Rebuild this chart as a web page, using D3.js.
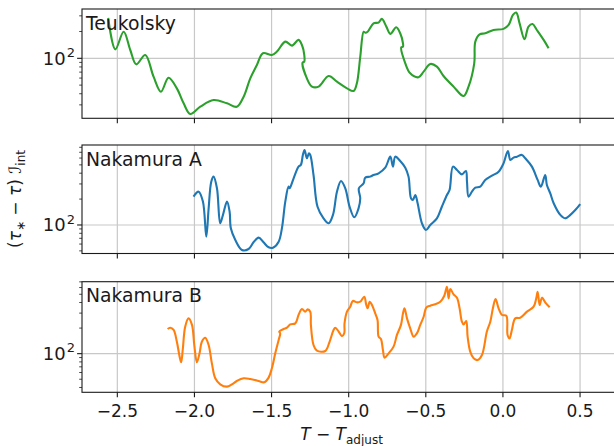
<!DOCTYPE html>
<html><head><meta charset="utf-8">
<script src="https://cdn.jsdelivr.net/npm/d3@7"></script>
<style>body{margin:0;background:#fff} svg{display:block} text{font-family:"DejaVu Sans",sans-serif;fill:#1a1a1a}</style>
</head><body><svg id="c" width="614" height="446"></svg>
<script>
const xTicks = [-2.5,-2.0,-1.5,-1.0,-0.5,0.0,0.5];
const xTickLabels = ["−2.5","−2.0","−1.5","−1.0","−0.5","0.0","0.5"];
const panelNames = ["Teukolsky","Nakamura A","Nakamura B"];
const seriesColors = ["#2ca02c","#1f77b4","#ff7f0e"];

const teukT = [-2.559,-2.513,-2.459,-2.416,-2.377,-2.319,-2.265,-2.217,-2.168,-2.114,-2.070,-2.027,-1.962,-1.876,-1.789,-1.725,-1.681,-1.638,-1.595,-1.556,-1.498,-1.465,-1.411,-1.368,-1.325,-1.303,-1.288,-1.288,-1.299,-1.271,-1.238,-1.195,-1.130,-1.076,-1.011,-0.968,-0.947,-0.925,-0.903,-0.893,-0.877,-0.839,-0.806,-0.785,-0.756,-0.730,-0.692,-0.666,-0.648,-0.648,-0.659,-0.633,-0.601,-0.547,-0.514,-0.471,-0.428,-0.385,-0.320,-0.255,-0.223,-0.186,-0.179,-0.151,-0.115,-0.061,0.004,0.037,0.065,0.086,0.108,0.140,0.166,0.192,0.220,0.264,0.296];
const teukV = [284,126,199,124,85.6,109,62.2,42.2,60.6,46.0,31.2,23.7,28.6,34.0,31.2,28.6,37.1,59.6,84.2,114,109,119,154,139,161,141,109,91.7,89.4,59.6,48.1,48.1,63.3,54.7,46.0,43.0,52.4,104,199,194,199,247,252,277,227,188,223,191,147,135,133,87.9,67.8,61.2,70.8,86.4,80.6,63.3,48.1,37.7,48.1,87.9,154,186,191,208,214,237,307,326,247,164,227,243,208,161,130];

const nakAT = [-2.006,-1.973,-1.945,-1.923,-1.908,-1.891,-1.876,-1.854,-1.833,-1.815,-1.789,-1.772,-1.764,-1.735,-1.692,-1.649,-1.617,-1.584,-1.552,-1.519,-1.491,-1.454,-1.433,-1.411,-1.390,-1.383,-1.357,-1.325,-1.310,-1.297,-1.286,-1.271,-1.258,-1.249,-1.228,-1.202,-1.163,-1.130,-1.102,-1.076,-1.050,-1.022,-0.994,-0.964,-0.936,-0.925,-0.934,-0.903,-0.893,-0.860,-0.839,-0.806,-0.763,-0.730,-0.713,-0.698,-0.666,-0.633,-0.612,-0.596,-0.584,-0.568,-0.553,-0.525,-0.499,-0.471,-0.428,-0.396,-0.363,-0.346,-0.324,-0.298,-0.266,-0.240,-0.233,-0.223,-0.201,-0.179,-0.147,-0.115,-0.071,-0.028,0.004,0.032,0.048,0.069,0.091,0.123,0.145,0.188,0.225,0.246,0.274,0.285,0.307,0.329,0.372,0.404,0.437,0.469,0.501];
const nakAV = [213.5,244,187,73.2,156,319,365,267,104.6,131,187,143,91.4,66.9,51.2,52.6,62.9,71.3,62.9,55.0,54.5,64.0,91.4,187,279,267,349,477,499,652,745,596,681,652,381,163,119.5,104.6,131,244,325,267,163,122.8,156,204,267,305,355,365,381,399,464,623,477,623,555,464,365,204,195,223,179,104.6,87.5,100,119.5,163,223,255,477,436,388,425,319,213.5,244,272,279,334,375,417,521,725,570,607,623,652,596,477,334,279,381,292,233,179,131,119.5,131,149,175];

const nakBT = [-2.174,-2.157,-2.135,-2.114,-2.096,-2.086,-2.075,-2.060,-2.038,-2.016,-2.001,-1.984,-1.967,-1.952,-1.930,-1.908,-1.887,-1.865,-1.833,-1.789,-1.757,-1.725,-1.681,-1.638,-1.584,-1.547,-1.519,-1.498,-1.476,-1.454,-1.444,-1.450,-1.422,-1.400,-1.379,-1.346,-1.325,-1.303,-1.282,-1.266,-1.249,-1.245,-1.228,-1.206,-1.152,-1.124,-1.098,-1.087,-1.065,-1.044,-1.029,-1.027,-1.011,-0.990,-0.973,-0.947,-0.925,-0.899,-0.886,-0.877,-0.864,-0.849,-0.828,-0.813,-0.806,-0.791,-0.778,-0.767,-0.741,-0.709,-0.687,-0.661,-0.648,-0.638,-0.622,-0.601,-0.579,-0.558,-0.536,-0.514,-0.497,-0.471,-0.439,-0.406,-0.380,-0.363,-0.352,-0.341,-0.320,-0.298,-0.281,-0.266,-0.255,-0.238,-0.229,-0.212,-0.190,-0.164,-0.136,-0.104,-0.082,-0.065,-0.048,-0.028,-0.006,0.022,0.030,0.043,0.058,0.080,0.112,0.156,0.199,0.216,0.225,0.238,0.253,0.274,0.303];
const nakBV = [195,202,190,138,92.2,79.1,115.5,208,260,218,126.4,79.1,100.9,138,154,126.4,76.9,51.3,43.6,40.9,43.6,47.7,51.3,50.3,47.7,46.0,52.2,67.2,100.9,145,173,182,195,202,221,227,285,335,312,332,312,218,126.4,108.5,107.5,138,190,202,182,161,173,227,312,357,417,402,409,468,374,342,409,374,298,249,158.5,149,110.4,89.7,100.9,121,166,218,298,342,260,199,158.5,173,218,272,348,367,381,409,481,614,448,576,499,456,342,238,221,242,158.5,105.6,88.1,84.2,96.4,182,238,342,440,342,285,280,166,151,190,260,265,312,357,448,536,374,456,402,351];

const seriesT = [teukT, nakAT, nakBT];
const seriesV = [teukV, nakAV, nakBV];

// layout
const W = 614, H = 446;
const left = 82, right = 620;
const panels = [
  {top: 9, bottom: 118.3, dom: [21.2, 358]},
  {top: 145, bottom: 253.5, dom: [46.6, 851]},
  {top: 281.7, bottom: 392.3, dom: [35.1, 703]}
];
const svg = d3.select("#c");
svg.append("rect").attr("width", W).attr("height", H).attr("fill", "#fff");
const x = d3.scaleLinear().domain([-2.729, 0.759]).range([left, right]);
const gridCol = "#c8c8c8", axCol = "#1a1a1a";

panels.forEach((p, i) => {
  const y = d3.scaleLog().domain(p.dom).range([p.bottom, p.top]);
  const g = svg.append("g");
  const cid = "clip" + i;
  svg.append("clipPath").attr("id", cid).append("rect")
    .attr("x", left).attr("y", p.top).attr("width", right - left).attr("height", p.bottom - p.top);
  g.selectAll(".xg").data(xTicks).enter().append("line")
    .attr("x1", d => x(d)).attr("x2", d => x(d)).attr("y1", p.top).attr("y2", p.bottom)
    .attr("stroke", gridCol).attr("stroke-width", 1.2);
  const lo = Math.floor(Math.log10(p.dom[0])), hi = Math.ceil(Math.log10(p.dom[1]));
  const yt = [];
  for (let d = lo; d <= hi; d++) for (let k = 1; k <= 9; k++) {
    const v = k * Math.pow(10, d);
    if (v >= p.dom[0] && v <= p.dom[1]) yt.push({v, major: k === 1, d});
  }
  g.selectAll(".yg").data(yt.filter(t => t.major)).enter().append("line")
    .attr("x1", left).attr("x2", right).attr("y1", d => y(d.v)).attr("y2", d => y(d.v))
    .attr("stroke", gridCol).attr("stroke-width", 1.2);
  g.selectAll(".yt").data(yt).enter().append("line")
    .attr("x1", d => left - (d.major ? 4.9 : 2.8)).attr("x2", left)
    .attr("y1", d => y(d.v)).attr("y2", d => y(d.v))
    .attr("stroke", axCol).attr("stroke-width", d => d.major ? 1.1 : 0.8);
  yt.filter(t => t.major).forEach(t => {
    const tx = g.append("text").attr("x", 75).attr("y", y(t.v) + 6.3)
      .attr("text-anchor", "end").attr("font-size", 18);
    tx.append("tspan").text("10");
    tx.append("tspan").attr("font-size", 13).attr("dy", -7.5).attr("dx", 1).text(String(t.d));
  });
  const pts = seriesT[i].map((t, j) => [t, seriesV[i][j]]);
  g.append("path").datum(pts)
    .attr("clip-path", `url(#${cid})`)
    .attr("d", d3.line().x(d => x(d[0])).y(d => y(d[1])).curve(d3.curveCatmullRom.alpha(0.5)))
    .attr("fill", "none").attr("stroke", seriesColors[i]).attr("stroke-width", 2.1)
    .attr("stroke-linejoin", "round").attr("stroke-linecap", "butt");
  g.append("rect").attr("x", left).attr("y", p.top).attr("width", right - left).attr("height", p.bottom - p.top)
    .attr("fill", "none").attr("stroke", axCol).attr("stroke-width", 1.1);
  g.selectAll(".xt").data(xTicks).enter().append("line")
    .attr("x1", d => x(d)).attr("x2", d => x(d)).attr("y1", p.bottom).attr("y2", p.bottom + 4.9)
    .attr("stroke", axCol).attr("stroke-width", 1.1);
  g.append("text").attr("x", 86).attr("y", p.top + 20.5).attr("font-size", 18.8).text(panelNames[i]);
  if (i === 2) {
    g.selectAll(".xl").data(xTicks).enter().append("text")
      .attr("x", d => x(d)).attr("y", p.bottom + 24.7).attr("text-anchor", "middle")
      .attr("font-size", 17).text((d, j) => xTickLabels[j]);
  }
});

const xl = svg.append("text").attr("x", 341.5).attr("y", 440).attr("text-anchor", "middle").attr("font-size", 17);
xl.append("tspan").attr("font-style", "italic").text("T");
xl.append("tspan").text(" − ");
xl.append("tspan").attr("font-style", "italic").text("T");
xl.append("tspan").attr("font-size", 12).attr("dy", 4).text("adjust");

const yl = svg.append("text").attr("transform", "translate(21,199) rotate(-90)")
  .attr("text-anchor", "middle").attr("font-size", 17);
yl.append("tspan").text("(");
yl.append("tspan").attr("font-style", "italic").text("τ");
yl.append("tspan").attr("font-size", 12).attr("dy", 4).text("∗");
yl.append("tspan").attr("dy", -4).text(" − ");
yl.append("tspan").attr("font-style", "italic").text("τ");
yl.append("tspan").text(") ");
yl.append("tspan").text("ℐ");
yl.append("tspan").attr("font-size", 12).attr("dy", 4).text("int");
</script></body></html>
